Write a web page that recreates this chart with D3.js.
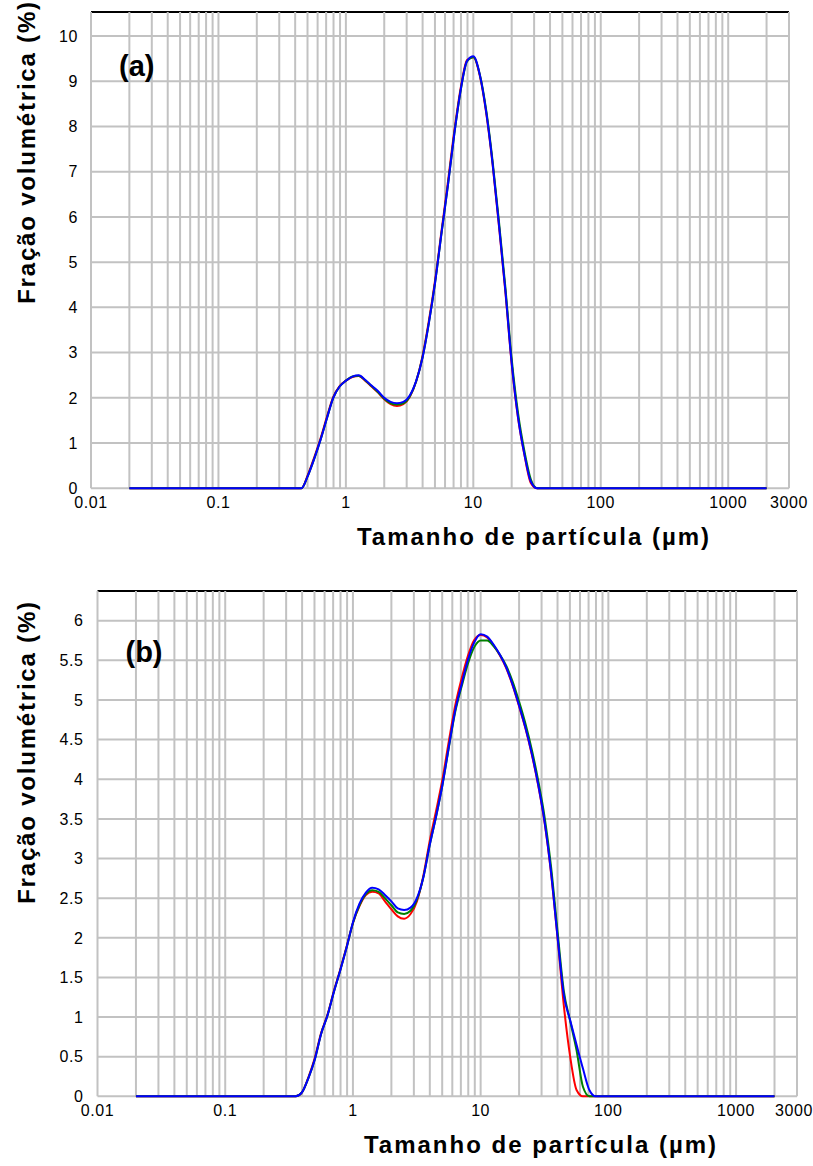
<!DOCTYPE html>
<html>
<head>
<meta charset="utf-8">
<script src="https://cdn.jsdelivr.net/npm/d3@7"></script>
<style>
  html, body { margin: 0; padding: 0; background: #fff; }
  svg { display: block; }
  text { font-family: "Liberation Sans", Arial, sans-serif; fill: #000; }
</style>
</head>
<body>
<svg id="chart" width="813" height="1166"></svg>
<script>
// Particle size classes (µm) for each panel, with the flat zero ends at 0.02 and 2000 µm
const sizesA = [0.02, 0.448, 0.502, 0.564, 0.632, 0.710, 0.796, 0.893, 1.002, 1.125, 1.262,
  1.416, 1.589, 1.783, 2.000, 2.244, 2.518, 2.825, 3.170, 3.557, 3.991, 4.477, 5.024, 5.637,
  6.325, 7.096, 7.962, 8.934, 10.024, 11.247, 12.619, 14.159, 15.887, 17.825, 20.000, 22.440,
  25.179, 28.251, 31.698, 2000];

const redA = [0, 0, 0.29, 0.68, 1.10, 1.58, 2.02, 2.26, 2.38, 2.46, 2.48,
  2.38, 2.25, 2.12, 1.97, 1.86, 1.82, 1.86, 2.02, 2.36, 2.92, 3.70, 4.62, 5.70,
  6.78, 7.90, 8.85, 9.47, 9.53, 9.12, 8.30, 7.17, 5.80, 4.36, 2.75, 1.55,
  0.74, 0.12, 0, 0];
const greenA = [0, 0, 0.27, 0.65, 1.07, 1.55, 2.00, 2.25, 2.38, 2.47, 2.49,
  2.39, 2.26, 2.13, 1.98, 1.88, 1.85, 1.88, 2.03, 2.36, 2.89, 3.65, 4.57, 5.65,
  6.71, 7.84, 8.80, 9.44, 9.53, 9.15, 8.36, 7.24, 5.90, 4.46, 2.86, 1.66,
  0.82, 0.20, 0, 0];
const blueA = [0, 0, 0.27, 0.65, 1.07, 1.55, 2.00, 2.25, 2.38, 2.47, 2.50,
  2.40, 2.27, 2.15, 2.00, 1.91, 1.88, 1.91, 2.05, 2.37, 2.88, 3.65, 4.57, 5.66,
  6.71, 7.84, 8.81, 9.45, 9.55, 9.14, 8.32, 7.19, 5.83, 4.39, 2.77, 1.57,
  0.75, 0.15, 0, 0];

const sizesB = [0.02, 0.356, 0.399, 0.448, 0.502, 0.564, 0.632, 0.710, 0.796, 0.893, 1.002,
  1.125, 1.262, 1.416, 1.589, 1.783, 2.000, 2.244, 2.518, 2.825, 3.170, 3.557, 3.991, 4.477,
  5.024, 5.637, 6.325, 7.096, 7.962, 8.934, 10.024, 11.247, 12.619, 14.159, 15.887, 17.825,
  20.000, 22.440, 25.179, 28.251, 31.698, 35.566, 39.905, 44.774, 50.238, 56.368, 63.246,
  70.963, 79.621, 2000];

const redB = [0, 0, 0.05, 0.24, 0.48, 0.80, 1.03, 1.33, 1.60, 1.89, 2.19,
  2.40, 2.54, 2.58, 2.56, 2.46, 2.36, 2.27, 2.24, 2.30, 2.46, 2.78, 3.22, 3.60,
  4.00, 4.48, 4.93, 5.27, 5.56, 5.76, 5.82, 5.79, 5.69, 5.56, 5.40, 5.18,
  4.92, 4.64, 4.31, 3.92, 3.45, 2.82, 2.02, 1.15, 0.50, 0.08, 0,
  0, 0, 0];
const greenB = [0, 0, 0.05, 0.23, 0.46, 0.79, 1.02, 1.32, 1.59, 1.88, 2.19,
  2.41, 2.55, 2.60, 2.58, 2.50, 2.41, 2.32, 2.30, 2.34, 2.48, 2.76, 3.17, 3.53,
  3.93, 4.40, 4.85, 5.17, 5.46, 5.67, 5.75, 5.75, 5.68, 5.57, 5.43, 5.23,
  4.98, 4.70, 4.37, 3.98, 3.52, 2.90, 2.10, 1.33, 0.95, 0.58, 0.12,
  0, 0, 0];
const blueB = [0, 0, 0.05, 0.23, 0.46, 0.79, 1.02, 1.32, 1.59, 1.88, 2.20,
  2.43, 2.57, 2.63, 2.61, 2.54, 2.46, 2.37, 2.35, 2.38, 2.50, 2.76, 3.17, 3.53,
  3.93, 4.41, 4.87, 5.20, 5.51, 5.73, 5.83, 5.80, 5.70, 5.57, 5.41, 5.19,
  4.93, 4.65, 4.32, 3.93, 3.46, 2.83, 2.03, 1.28, 0.96, 0.65, 0.35,
  0.08, 0, 0];

// Axis labels
const xTickValues = [0.01, 0.1, 1, 10, 100, 1000, 3000];
const xTickLabels = ["0.01", "0.1", "1", "10", "100", "1000", "3000"];
const yTicksA = [0, 1, 2, 3, 4, 5, 6, 7, 8, 9, 10];
const yTicksB = [0, 0.5, 1, 1.5, 2, 2.5, 3, 3.5, 4, 4.5, 5, 5.5, 6];
const seriesColors = ["#ff0000", "#008000", "#0000ff"];

const svg = d3.select("#chart");
const W = 813;

// Log grid positions: 1..9 in every decade from 0.01 up to 3000
const gridX = [];
for (let e = -2; e <= 3; e++) {
  for (let m = 1; m <= 9; m++) {
    const v = m * Math.pow(10, e);
    if (v <= 3000 + 1e-9) gridX.push(v);
  }
}

function panel(cfg) {
  const g = svg.append("g");
  const x = d3.scaleLog().domain([0.01, 3000]).range([cfg.left, cfg.right]);
  const y = d3.scaleLinear().domain([0, cfg.ymax]).range([cfg.bottom, cfg.top]);

  // black frame line across the top
  g.append("line")
    .attr("x1", cfg.left).attr("x2", cfg.right)
    .attr("y1", cfg.top).attr("y2", cfg.top)
    .attr("stroke", "#000").attr("stroke-width", 2);

  // grid
  g.append("g").selectAll("line").data(cfg.yTicks).join("line")
    .attr("x1", cfg.left).attr("x2", cfg.right)
    .attr("y1", d => y(d)).attr("y2", d => y(d))
    .attr("stroke", "#c2c2c2").attr("stroke-width", 2);
  g.append("g").selectAll("line").data(gridX).join("line")
    .attr("x1", d => x(d)).attr("x2", d => x(d))
    .attr("y1", cfg.top).attr("y2", cfg.bottom)
    .attr("stroke", "#c2c2c2").attr("stroke-width", 2);

  // y tick labels
  g.append("g").selectAll("text").data(cfg.yTicks).join("text")
    .attr("x", cfg.left - cfg.yLabelGap)
    .attr("y", d => y(d))
    .attr("dy", "0.36em")
    .attr("text-anchor", "end")
    .attr("font-size", 16)
    .attr("letter-spacing", 0.6)
    .text(d => String(d));

  // x tick labels (the last one is kept inside the page edge)
  g.append("g").selectAll("text").data(xTickValues).join("text")
    .attr("x", d => Math.min(x(d), W - 19))
    .attr("y", cfg.bottom + 14)
    .attr("dy", "0.36em")
    .attr("text-anchor", "middle")
    .attr("font-size", 16)
    .attr("letter-spacing", 0.6)
    .text((d, i) => xTickLabels[i]);

  // curves
  const line = d3.line()
    .x(d => x(d[0]))
    .y(d => y(d[1]))
    .curve(d3.curveMonotoneX);
  cfg.series.forEach((vals, i) => {
    const pts = cfg.sizes.map((s, k) => [s, vals[k]]);
    g.append("path")
      .attr("d", line(pts))
      .attr("fill", "none")
      .attr("stroke", seriesColors[i])
      .attr("stroke-width", 2)
      .attr("stroke-linejoin", "round");
  });

  // panel tag
  g.append("text")
    .attr("x", cfg.left + 28).attr("y", cfg.tagY)
    .attr("font-size", 29).attr("font-weight", "bold")
    .text(cfg.tag);

  // axis titles
  g.append("text")
    .attr("x", cfg.xTitleX).attr("y", cfg.bottom + 57)
    .attr("text-anchor", "middle")
    .attr("font-size", 24).attr("font-weight", "bold")
    .attr("letter-spacing", 2)
    .text("Tamanho de partícula (µm)");
  g.append("text")
    .attr("transform", `translate(35,${cfg.yTitleY}) rotate(-90)`)
    .attr("text-anchor", "middle")
    .attr("font-size", 24).attr("font-weight", "bold")
    .attr("letter-spacing", 1.8)
    .text("Fração volumétrica (%)");
}

panel({
  left: 91, right: 789, top: 12, bottom: 488.3, ymax: 10.53,
  yTicks: yTicksA, yLabelGap: 13, sizes: sizesA,
  series: [redA, greenA, blueA], tag: "(a)", tagY: 76,
  xTitleX: 534, yTitleY: 152
});

panel({
  left: 97.5, right: 797, top: 591, bottom: 1096.3, ymax: 6.375,
  yTicks: yTicksB, yLabelGap: 14, sizes: sizesB,
  series: [redB, greenB, blueB], tag: "(b)", tagY: 662,
  xTitleX: 541, yTitleY: 752
});
</script>
</body>
</html>
